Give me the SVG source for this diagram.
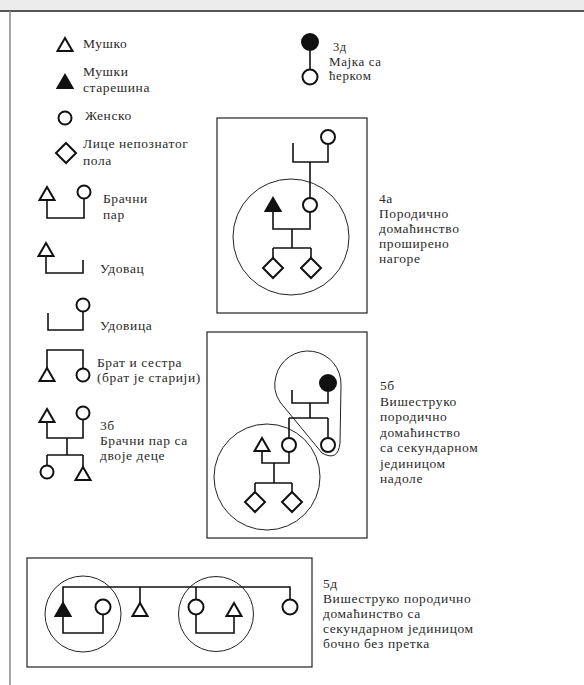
<svg xmlns="http://www.w3.org/2000/svg" xmlns:xlink="http://www.w3.org/1999/xlink" width="584" height="685" viewBox="0 0 584 685">
<style>
.t{font-family:"Liberation Serif","DejaVu Serif","Times New Roman",serif;font-size:13.5px;letter-spacing:0.6px;fill:#2a2a2a}
.s{fill:#fff;stroke:#111;stroke-width:2}
.f{fill:#111;stroke:#111;stroke-width:2}
.ln{fill:none;stroke:#111;stroke-width:1.6}
.thin{fill:none;stroke:#222;stroke-width:1}
.box{fill:none;stroke:#222;stroke-width:1.2}
</style>
<defs>
<polygon id="tri" points="0,-7 7.5,6 -7.5,6"/>
<polygon id="dia" points="0,-10 10,0 0,10 -10,0"/>
</defs>
<rect x="0" y="0" width="584" height="685" fill="#fff"/>
<rect x="0" y="0" width="584" height="10" fill="#ececec"/>
<line x1="0" y1="11" x2="584" y2="11" stroke="#555" stroke-width="2"/>
<line x1="10" y1="11" x2="10" y2="685" stroke="#888" stroke-width="1.5"/>

<g id="legend-male">
<use xlink:href="#tri" x="65" y="45" class="s"/>
<text class="t" x="83" y="48">Мушко</text>
</g>
<g id="legend-head">
<use xlink:href="#tri" x="65" y="82" class="f"/>
<text class="t" x="83" y="76">Мушки</text>
<text class="t" x="83" y="92">старешина</text>
</g>
<g id="legend-female">
<circle cx="65" cy="118" r="6.5" class="s"/>
<text class="t" x="85" y="120">Женско</text>
</g>
<g id="legend-unknown">
<use xlink:href="#dia" x="66" y="153" class="s"/>
<text class="t" x="83" y="148">Лице непознатог</text>
<text class="t" x="83" y="165">пола</text>
</g>
<g id="legend-couple">
<path class="ln" d="M47 200 V218 H84 V198.5"/>
<use xlink:href="#tri" x="47" y="194" class="s"/>
<circle cx="84" cy="192" r="6.5" class="s"/>
<text class="t" x="103" y="203">Брачни</text>
<text class="t" x="103" y="219">пар</text>
</g>
<g id="legend-widower">
<path class="ln" d="M46 256 V273 H83 V260"/>
<use xlink:href="#tri" x="46" y="250" class="s"/>
<text class="t" x="100" y="273">Удовац</text>
</g>
<g id="legend-widow">
<path class="ln" d="M48 313 V330 H83 V311.5"/>
<circle cx="83" cy="305" r="6.5" class="s"/>
<text class="t" x="100" y="330">Удовица</text>
</g>
<g id="legend-siblings">
<path class="ln" d="M47 369 V350 H83 V368.5"/>
<use xlink:href="#tri" x="47" y="375" class="s"/>
<circle cx="83" cy="375" r="6.5" class="s"/>
<text class="t" x="97" y="367">Брат и сестра</text>
<text class="t" x="97" y="382">(брат је старији)</text>
</g>
<g id="legend-3b">
<path class="ln" d="M47 422 V438 H83 V419.5 M67 438 V455 M47 455 H83 M47 455 V465.5 M83 455 V467"/>
<use xlink:href="#tri" x="47" y="416" class="s"/>
<circle cx="83" cy="413" r="6.5" class="s"/>
<circle cx="47" cy="472" r="6.5" class="s"/>
<use xlink:href="#tri" x="83" y="474" class="s"/>
<text class="t" x="100" y="430">3б</text>
<text class="t" x="100" y="445">Брачни пар са</text>
<text class="t" x="100" y="460">двоје деце</text>
</g>
<g id="legend-3d">
<path class="ln" d="M310 50 V69.5"/>
<circle cx="310" cy="42" r="8" class="f"/>
<circle cx="310" cy="77" r="7.5" class="s"/>
<text class="t" x="333" y="51" style="font-size:12.5px">3д</text>
<text class="t" x="329" y="65.5" style="font-size:13px">Мајка са</text>
<text class="t" x="329" y="80" style="font-size:13px">ћерком</text>
</g>

<g id="diagram-4a">
<rect x="217" y="118" width="150" height="195" class="box"/>
<circle cx="291" cy="237" r="58" class="thin"/>
<path class="ln" d="M293 143 V162 H328 V144 M310 162 V198 M273 211 V229 H310 V212 M292 229 V248 M273 248 H311 M273 248 V258 M311 248 V258"/>
<circle cx="328" cy="137" r="7" class="s"/>
<circle cx="310" cy="205" r="7" class="s"/>
<use xlink:href="#tri" x="273" y="205" class="f"/>
<use xlink:href="#dia" x="273" y="268" class="s"/>
<use xlink:href="#dia" x="311" y="268" class="s"/>
<text class="t" x="379" y="203">4а</text>
<text class="t" x="379" y="218">Породично</text>
<text class="t" x="379" y="233">домаћинство</text>
<text class="t" x="379" y="248">проширено</text>
<text class="t" x="379" y="263">нагоре</text>
</g>

<g id="diagram-5b">
<rect x="207" y="332" width="160" height="206" class="box"/>
<circle cx="267" cy="477" r="53" class="thin"/>
<path class="thin" d="M280 402 Q272 390 276 376 A33 33 0 0 1 341 385 L340 443 Q338 462 322 453 Z"/>
<path class="ln" d="M292 390 V403 H328 V391 M310 403 V418 M289 418 H328 M289 418 V438 M328 418 V438 M262 451 V463 H289 V452 M274 463 V483 M255 483 H292 M255 483 V492 M292 483 V492"/>
<circle cx="328" cy="383" r="8" class="f"/>
<circle cx="289" cy="445" r="7" class="s"/>
<circle cx="328" cy="445" r="7" class="s"/>
<use xlink:href="#tri" x="262" y="445" class="s"/>
<use xlink:href="#dia" x="255" y="502" class="s"/>
<use xlink:href="#dia" x="292" y="502" class="s"/>
<text class="t" x="380" y="390">5б</text>
<text class="t" x="380" y="405.5">Вишеструко</text>
<text class="t" x="380" y="421">породично</text>
<text class="t" x="380" y="436.5">домаћинство</text>
<text class="t" x="380" y="452">са секундарном</text>
<text class="t" x="380" y="467.5">јединицом</text>
<text class="t" x="380" y="483">надоле</text>
</g>

<g id="diagram-5d">
<rect x="27" y="558" width="285" height="109" class="box"/>
<circle cx="83" cy="614" r="38" class="thin"/>
<circle cx="216" cy="614" r="37.5" class="thin"/>
<path class="ln" d="M63 603 V587 H290 V600 M140 587 V603 M196 587 V600 M63 616 V633 H103 V614.5 M196 614.5 V633 H234 V616"/>
<use xlink:href="#tri" x="63" y="610" class="f"/>
<circle cx="103" cy="607" r="7.5" class="s"/>
<use xlink:href="#tri" x="140" y="610" class="s"/>
<circle cx="196" cy="607" r="7.5" class="s"/>
<use xlink:href="#tri" x="234" y="610" class="s"/>
<circle cx="290" cy="607" r="7.5" class="s"/>
<text class="t" x="323" y="588">5д</text>
<text class="t" x="323" y="603">Вишеструко породично</text>
<text class="t" x="323" y="618">домаћинство са</text>
<text class="t" x="323" y="633">секундарном јединицом</text>
<text class="t" x="323" y="648">бочно без претка</text>
</g>
</svg>
